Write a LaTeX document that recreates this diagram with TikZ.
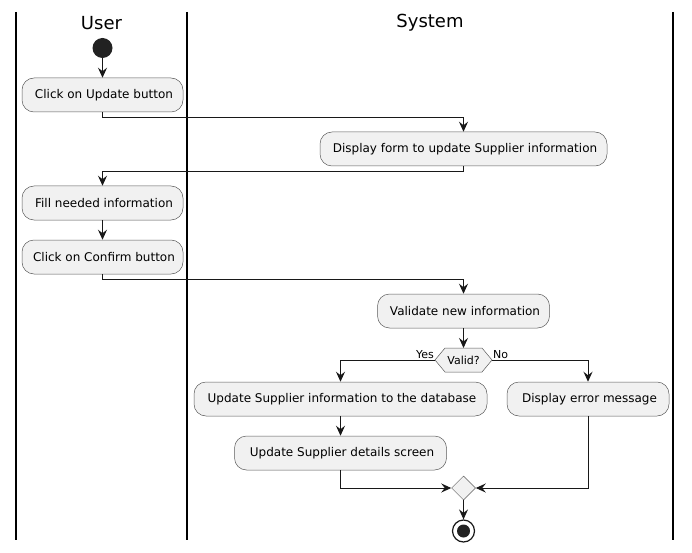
\documentclass[tikz,border=0pt]{standalone}
\usepackage{fontspec}
\setmainfont{DejaVu Sans}
\usetikzlibrary{arrows.meta,shapes.geometric}
\definecolor{boxfill}{HTML}{F1F1F1}
\definecolor{ink}{HTML}{181818}
\definecolor{edge}{HTML}{5A5A5A}
\definecolor{dot}{HTML}{222222}
\tikzset{
  act/.style={draw=edge, line width=0.5pt, fill=boxfill, rounded corners=12pt,
    minimum height=34pt, inner sep=0pt, font=\fontsize{12}{14}\selectfont},
  flow/.style={draw=ink, line width=1pt, -{Stealth[length=10pt,width=9pt,inset=3.5pt]}},
  lane/.style={draw=black, line width=1.5pt},
  lanetitle/.style={font=\fontsize{18}{20}\selectfont},
  guard/.style={font=\fontsize{11}{12}\selectfont, inner sep=1pt}
}
\begin{document}
\begin{tikzpicture}[x=1pt,y=-1pt]
\useasboundingbox (0,0) rectangle (692,553);
% swimlanes
\coordinate (l0t) at (16,12); \coordinate (l0b) at (16,540);
\coordinate (l1t) at (187,12); \coordinate (l1b) at (187,540);
\coordinate (l2t) at (673,12); \coordinate (l2b) at (673,540);
\draw[lane] (l0t) -- (l0b);
\draw[lane] (l1t) -- (l1b);
\draw[lane] (l2t) -- (l2b);
\node[lanetitle] (tuser) at (101.5,23) {User};
\node[lanetitle] (tsys) at (430,23) {System};
% start
\node[circle, fill=dot, minimum size=20pt, inner sep=0pt] (start) at (102.5,48) {};
% activities
\node[act, minimum width=161pt] (b1) at (102.5,95) {\hspace{3pt}Click on Update button};
\node[act, minimum width=287pt] (b2) at (463.5,149) {\hspace{3pt}Display form to update Supplier information};
\node[act, minimum width=161pt] (b3) at (102.5,203) {\hspace{3pt}Fill needed information};
\node[act, minimum width=161pt] (b4) at (102.5,257) {\hspace{3pt}Click on Confirm button};
\node[act, minimum width=172pt] (b5) at (463.5,311) {\hspace{3pt}Validate new information};
\node[act, minimum width=293pt] (b6) at (340.5,399) {\hspace{3pt}Update Supplier information to the database};
\node[act, minimum width=212pt] (b7) at (340.5,453) {\hspace{3pt}Update Supplier details screen};
\node[act, minimum width=162pt] (b8) at (588,399) {\hspace{3pt}Display error message};
% decision hexagon
\coordinate (vl) at (435,360);
\coordinate (vr) at (492,360);
\coordinate (vt) at (463.5,348);
\draw[draw=edge, line width=0.5pt, fill=boxfill] (vl) -- (445,348) -- (482,348) -- (vr) -- (482,372) -- (445,372) -- cycle;
\node[font=\fontsize{11}{12}\selectfont] (valid) at (463.5,360.5) {Valid?};
% merge and end
\node[diamond, draw=edge, line width=0.5pt, fill=boxfill, minimum width=24pt, minimum height=24pt, inner sep=0pt] (merge) at (463.5,488) {};
\node[circle, draw=ink, line width=1.2pt, fill=white, minimum size=22pt, inner sep=0pt] (end) at (463.5,531) {};
\fill[dot] (end.center) circle (6.5pt);
% connectors
\draw[flow] (start) -- (b1);
\draw[flow] (b1.south) -- ++(0,5) -| (b2.north);
\draw[flow] (b2.south) -- ++(0,5) -| (b3.north);
\draw[flow] (b3) -- (b4);
\draw[flow] (b4.south) -- ++(0,5) -| (b5.north);
\draw[flow] (b5) -- (vt);
\draw[flow] (vl) -| (b6.north);
\draw[flow] (vr) -| (b8.north);
\node[guard, anchor=south east] (yes) at (vl) {Yes};
\node[guard, anchor=south west] (no) at (vr) {No};
\draw[flow] (b6) -- (b7);
\draw[flow] (b7.south) |- (merge.west);
\draw[flow] (b8.south) |- (merge.east);
\draw[flow] (merge.south) -- (end.north);
\end{tikzpicture}
\end{document}
